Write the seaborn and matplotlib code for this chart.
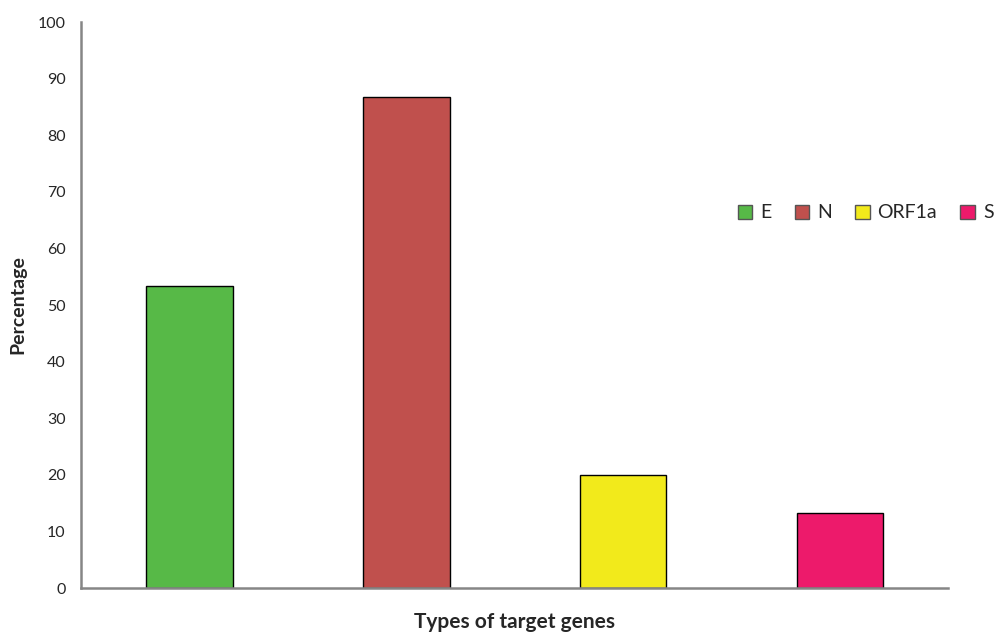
import matplotlib
matplotlib.use("Agg")
import matplotlib.pyplot as plt
import seaborn as sns
import pandas as pd
from matplotlib.patches import Patch

genes = ["E", "N", "ORF1a", "S"]
percentages = [53.3, 86.7, 20.0, 13.3]
colors = ["#57B947", "#C0504D", "#F2EA1B", "#ED1A6B"]
yticks = [0, 10, 20, 30, 40, 50, 60, 70, 80, 90, 100]

sns.set_style("white")
plt.rcParams["font.family"] = ["Lato", "DejaVu Sans"]

df = pd.DataFrame({"gene": genes, "pct": percentages})

fig = plt.figure(figsize=(9.97, 6.32), dpi=100)
ax = fig.add_axes([0.0812, 0.0696, 0.870, 0.8955])

sns.barplot(data=df, x="gene", y="pct", hue="gene", palette=colors, saturation=1,
            width=0.4, edgecolor="black", linewidth=1, legend=False, ax=ax)

ax.set_ylim(0, 100)
ax.set_xlim(-0.5, 3.5)
ax.set_yticks(yticks)
ax.set_yticklabels([str(t) for t in yticks], fontsize=11.5)
ax.set_xticks([])
ax.set_xlabel("Types of target genes", fontsize=15, fontweight="bold", labelpad=17)
ax.set_ylabel("Percentage", fontsize=14, fontweight="bold", labelpad=8)

for s in ["top", "right"]:
    ax.spines[s].set_visible(False)
for s in ["left", "bottom"]:
    ax.spines[s].set_color("#868686")
    ax.spines[s].set_linewidth(1.8)
ax.tick_params(axis="y", direction="out", length=5, width=1.5, color="#868686", pad=6)
ax.tick_params(axis="x", length=0)

handles = [Patch(facecolor=c, edgecolor="#555555", label=g) for g, c in zip(genes, colors)]
fig.legend(handles=handles, loc="center left", bbox_to_anchor=(0.740, 0.663),
           ncol=4, frameon=False, fontsize=14, handlelength=0.75, handleheight=0.75,
           handletextpad=0.4, columnspacing=1.2, borderaxespad=0, borderpad=0)

fig.savefig("out.png", dpi=100)
